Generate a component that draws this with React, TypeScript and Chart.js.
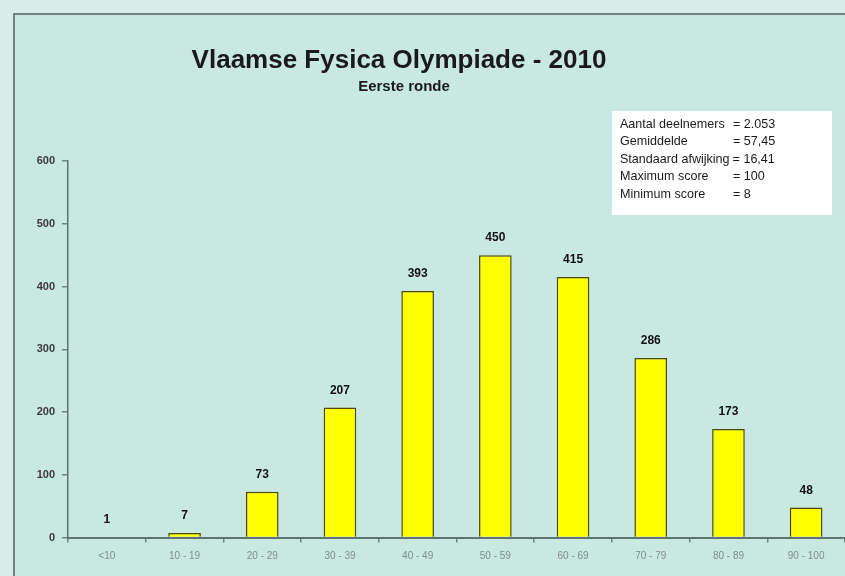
import React, { useEffect, useRef } from "react";
import { Chart, registerables } from "chart.js";

Chart.register(...registerables);

const categories = ["<10", "10 - 19", "20 - 29", "30 - 39", "40 - 49", "50 - 59", "60 - 69", "70 - 79", "80 - 89", "90 - 100"];
const counts = [1, 7, 73, 207, 393, 450, 415, 286, 173, 48];
const yTicks = [0, 100, 200, 300, 400, 500, 600];
const titleText = "Vlaamse Fysica Olympiade - 2010";
const subtitleText = "Eerste ronde";
const statLabels = ["Aantal deelnemers", "Gemiddelde", "Standaard afwijking", "Maximum score", "Minimum score"];
const statValues = ["2.053", "57,45", "16,41", "100", "8"];

const FONT = "'Liberation Sans', Arial, sans-serif";
const BG = "#c9e8e2";

const backgroundPlugin = {
  id: "bgDecor",
  beforeDraw(chart: any) {
    const ctx = chart.ctx;
    const w = chart.width;
    const h = chart.height;
    ctx.save();
    ctx.fillStyle = "#d6eeea";
    ctx.fillRect(0, 0, w, h);
    ctx.fillStyle = BG;
    ctx.fillRect(15, 15, w - 15, h - 15);
    ctx.strokeStyle = "#6f8480";
    ctx.lineWidth = 2;
    ctx.beginPath();
    ctx.moveTo(14, h);
    ctx.lineTo(14, 14);
    ctx.lineTo(w, 14);
    ctx.stroke();

    // title
    ctx.fillStyle = "#1a1a1a";
    ctx.textAlign = "center";
    ctx.textBaseline = "alphabetic";
    ctx.font = `bold 26px ${FONT}`;
    ctx.fillText(titleText, 399, 68);
    ctx.font = `bold 15px ${FONT}`;
    ctx.fillText(subtitleText, 404, 91);

    // stats box
    ctx.fillStyle = "#ffffff";
    ctx.fillRect(612, 111, 220, 104);
    ctx.fillStyle = "#1a1a1a";
    ctx.font = `13.5px ${FONT}`;
    ctx.textAlign = "left";
    ctx.textBaseline = "middle";
    const ys = [124, 141.5, 159, 176.5, 194];
    const sx = 0.93;
    statLabels.forEach((lab, i) => {
      ctx.save();
      ctx.translate(620, ys[i]);
      ctx.scale(sx, 1);
      ctx.fillText(lab, 0, 0);
      const lw = ctx.measureText(lab).width;
      ctx.restore();
      const eqX = i === 2 ? 620 + lw * sx + 3 : 733;
      ctx.save();
      ctx.translate(eqX, ys[i]);
      ctx.scale(sx, 1);
      ctx.fillText("= " + statValues[i], 0, 0);
      ctx.restore();
    });
    ctx.restore();
  },
};

const valueLabelPlugin = {
  id: "valueLabels",
  afterDatasetsDraw(chart: any) {
    const ctx = chart.ctx;
    const meta = chart.getDatasetMeta(0);
    ctx.save();
    ctx.fillStyle = "#111111";
    ctx.font = `bold 12px ${FONT}`;
    ctx.textAlign = "center";
    ctx.textBaseline = "middle";
    meta.data.forEach((bar: any, i: number) => {
      ctx.fillText(String(counts[i]), bar.x, bar.y - 17);
    });
    ctx.restore();
  },
};

export default function App() {
  const ref = useRef<HTMLCanvasElement | null>(null);
  useEffect(() => {
    if (!ref.current) return;
    const chart = new Chart(ref.current, {
      type: "bar",
      data: {
        labels: categories,
        datasets: [
          {
            data: counts,
            backgroundColor: "#ffff00",
            borderColor: "#4f4a00",
            borderWidth: 1.5,
            borderSkipped: "bottom",
            barPercentage: 0.42,
            categoryPercentage: 1,
          },
        ],
      },
      options: {
        responsive: false,
        animation: false,
        devicePixelRatio: 1,
        layout: { padding: { top: 161, left: 0, right: 0, bottom: 0 } },
        plugins: { legend: { display: false }, tooltip: { enabled: false }, title: { display: false } },
        scales: {
          x: {
            grid: { offset: true, drawOnChartArea: false, drawTicks: true, tickLength: 5, color: "#6f8480", lineWidth: 1.5 },
            border: { color: "#5f736f", width: 2 },
            ticks: { color: "#7f8e8b", font: { family: FONT, size: 10 }, padding: 8 },
            afterFit: (s: any) => { s.height = 38.5; },
          },
          y: {
            min: 0,
            max: 600,
            afterBuildTicks: (s: any) => { s.ticks = yTicks.map((v) => ({ value: v })); },
            grid: { drawOnChartArea: false, drawTicks: true, tickLength: 6, color: "#6f8480", lineWidth: 1.5 },
            border: { color: "#5f736f", width: 1.5 },
            ticks: { color: "#3a3a3a", font: { family: FONT, size: 11, weight: "bold" }, padding: 7 },
            afterFit: (s: any) => { s.width = 68; },
          },
        },
      },
      plugins: [backgroundPlugin, valueLabelPlugin],
    });
    return () => chart.destroy();
  }, []);
  return (
    <div style={{ position: "fixed", left: 0, top: 0, width: 845, height: 576, overflow: "hidden" }}>
      <canvas ref={ref} width={845} height={576} style={{ display: "block" }} />
    </div>
  );
}
